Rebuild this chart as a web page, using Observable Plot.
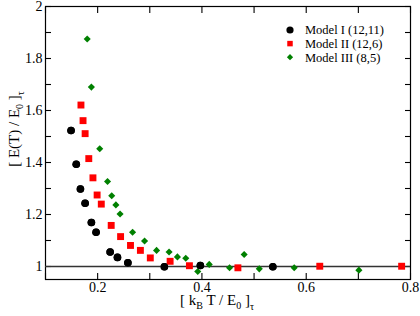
<!DOCTYPE html>
<html>
<head>
<meta charset="utf-8">
<script src="https://cdn.jsdelivr.net/npm/d3@7"></script>
<script src="https://cdn.jsdelivr.net/npm/@observablehq/plot@0.6"></script>
<style>
  html, body { margin: 0; padding: 0; background: white; }
</style>
</head>
<body>
<div id="chart"></div>
<script>
// Model I (12,11) — black circles
const model1X = [0.149, 0.159, 0.167, 0.176, 0.188, 0.197, 0.224, 0.238, 0.258, 0.328, 0.397, 0.536];
const model1Y = [1.523, 1.393, 1.298, 1.243, 1.169, 1.132, 1.056, 1.035, 1.014, 0.999, 1.004, 0.999];
// Model II (12,6) — red squares
const model2X = [0.168, 0.172, 0.176, 0.183, 0.191, 0.199, 0.207, 0.226, 0.244, 0.263, 0.282, 0.301, 0.339, 0.376, 0.469, 0.626, 0.783];
const model2Y = [1.621, 1.561, 1.511, 1.415, 1.341, 1.275, 1.240, 1.158, 1.115, 1.081, 1.062, 1.033, 1.020, 1.003, 0.995, 1.001, 1.001];
// Model III (8,5) — green diamonds
const model3X = [0.180, 0.188, 0.204, 0.219, 0.227, 0.235, 0.243, 0.267, 0.290, 0.313, 0.337, 0.353, 0.369, 0.392, 0.414, 0.453, 0.481, 0.510, 0.577, 0.701];
const model3Y = [1.875, 1.690, 1.453, 1.327, 1.272, 1.237, 1.202, 1.132, 1.098, 1.062, 1.056, 1.037, 1.032, 0.981, 1.008, 0.995, 1.046, 0.991, 0.995, 0.986];

const seriesNames = ["Model I (12,11)", "Model II (12,6)", "Model III (8,5)"];
const seriesColors = ["#000000", "#ff0000", "#008000"];

const xLabelTicks = [0.2, 0.4, 0.6, 0.8];
const xAllTicks = [0.1, 0.2, 0.3, 0.4, 0.5, 0.6, 0.7, 0.8];
const yLabelTicks = [1, 1.2, 1.4, 1.6, 1.8, 2];
const yAllTicks = [1, 1.1, 1.2, 1.3, 1.4, 1.5, 1.6, 1.7, 1.8, 1.9, 2];
const refLine = [1];

const toRows = (xs, ys) => xs.map((x, i) => ({x, y: ys[i]}));
const m1 = toRows(model1X, model1Y);
const m2 = toRows(model2X, model2Y);
const m3 = toRows(model3X, model3Y);

const font = "Liberation Serif";
const tickOpts = {tickSize: -6, fill: "none", stroke: "black", strokeWidth: 1.1, label: null};

const chart = Plot.plot({
  width: 420,
  height: 316,
  marginLeft: 45,
  marginRight: 10,
  marginTop: 6,
  marginBottom: 37,
  x: {domain: [0.1, 0.8], label: null},
  y: {domain: [0.95, 2], label: null},
  style: {fontFamily: font, fontSize: "14px", color: "black", background: "white", overflow: "visible"},
  marks: [
    Plot.dot(m1, {x: "x", y: "y", r: 3.8, fill: seriesColors[0]}),
    Plot.frame({stroke: "black", strokeWidth: 1.2}),
    Plot.axisX({anchor: "top", ticks: xAllTicks, ...tickOpts}),
    Plot.axisY({anchor: "right", ticks: yAllTicks, ...tickOpts}),
    Plot.axisX({anchor: "bottom", ticks: xAllTicks, ...tickOpts}),
    Plot.axisY({anchor: "left", ticks: yAllTicks, ...tickOpts}),
    Plot.ruleY(refLine, {stroke: "#333", strokeWidth: 1.3}),
    Plot.dot(m2, {x: "x", y: "y", r: 3.9, fill: seriesColors[1], symbol: "square"}),
    Plot.dot(m3, {x: "x", y: "y", r: 3.2, fill: seriesColors[2], symbol: "diamond2"}),
    Plot.dot(m1, {x: "x", y: "y", r: 3.8, fill: seriesColors[0]}),
    Plot.axisX({anchor: "bottom", ticks: xLabelTicks, tickSize: 0, tickPadding: 3, label: null, fontFamily: font, fontSize: 14, tickFormat: d => String(d)}),
    Plot.axisY({anchor: "left", ticks: yLabelTicks, tickSize: 0, tickPadding: 3, label: null, fontFamily: font, fontSize: 14, tickFormat: d => String(d)})
  ]
});

document.getElementById("chart").appendChild(chart);

const svg = d3.select(chart);

// Y label
const yl = svg.append("text")
  .attr("transform", "translate(19,129) rotate(-90)")
  .attr("text-anchor", "middle")
  .attr("font-family", font)
  .attr("font-size", 15)
  .attr("fill", "black");
yl.append("tspan").text("[ E(T) / E");
yl.append("tspan").attr("font-size", 10).attr("dy", 4).text("0");
yl.append("tspan").attr("dy", -4).text(" ]");
yl.append("tspan").attr("font-size", 10).attr("dy", 5).text("τ");

// X label
const xl = svg.append("text")
  .attr("transform", "translate(217,305)")
  .attr("text-anchor", "middle")
  .attr("font-family", font)
  .attr("font-size", 15)
  .attr("fill", "black");
xl.append("tspan").text("[ k");
xl.append("tspan").attr("font-size", 10).attr("dy", 4).text("B");
xl.append("tspan").attr("dy", -4).text(" T / E");
xl.append("tspan").attr("font-size", 10).attr("dy", 4).text("0");
xl.append("tspan").attr("dy", -4).text(" ]");
xl.append("tspan").attr("font-size", 10).attr("dy", 5).text("τ");

// Legend
const legend = svg.append("g")
  .attr("font-family", font)
  .attr("font-size", 12.5)
  .attr("text-anchor", "start");
const symbols = [d3.symbolCircle, d3.symbolSquare, d3.symbolDiamond2];
const symSizes = [3.6 * 3.6 * Math.PI, 3.1 * 3.1 * Math.PI, 2.8 * 2.8 * Math.PI];
seriesNames.forEach((name, i) => {
  const yy = 30 + i * 13.6;
  legend.append("path")
    .attr("transform", `translate(290,${yy})`)
    .attr("d", d3.symbol(symbols[i], symSizes[i])())
    .attr("fill", seriesColors[i]);
  legend.append("text")
    .attr("x", 305).attr("y", yy).attr("dy", "0.35em")
    .attr("text-anchor", "start")
    .attr("fill", "black")
    .text(name);
});
</script>
</body>
</html>
